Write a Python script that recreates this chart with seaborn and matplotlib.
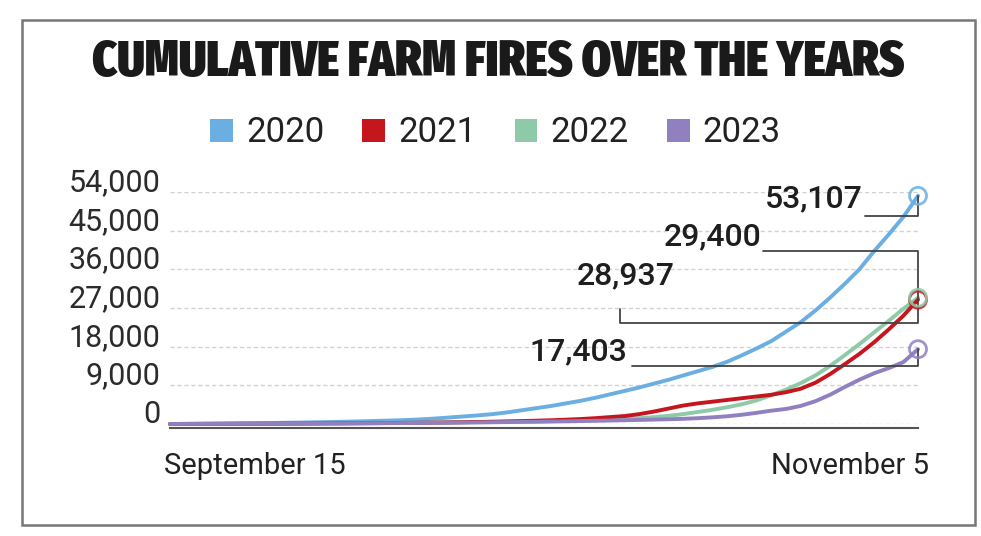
import numpy as np
import pandas as pd
import matplotlib
matplotlib.use("Agg")
import matplotlib.pyplot as plt
import matplotlib.transforms as mtransforms
from matplotlib import font_manager
from matplotlib.patches import Rectangle, Patch
import seaborn as sns

# --- data ---
title = "CUMULATIVE FARM FIRES OVER THE YEARS"
years = ["2020", "2021", "2022", "2023"]
colors = ["#6aaee2", "#c4161c", "#8fcaa8", "#9080c0"]
dates = pd.date_range("2023-09-15", "2023-11-05")
x_tick_labels = ["September 15", "November 5"]
y_ticks = [0, 9000, 18000, 27000, 36000, 45000, 54000]

fires_2020 = [0, 30, 60, 90, 120, 160, 200, 240, 290, 340, 400, 460, 530, 610, 700, 800,
              900, 1050, 1250, 1500, 1750, 2000, 2300, 2700, 3200, 3700, 4200, 4800, 5400, 6100,
              6900, 7700, 8500, 9400, 10300, 11300, 12300, 13300, 14500, 16000, 17600, 19300,
              21500, 23700, 26400, 29400, 32600, 36000, 40200, 44100, 48200, 53107]
fires_2021 = [0, 10, 20, 30, 40, 50, 60, 75, 90, 105, 120, 140, 160, 180, 200, 230,
              260, 290, 330, 370, 420, 470, 530, 600, 680, 770, 870, 1000, 1150, 1350,
              1600, 1850, 2300, 2900, 3600, 4300, 4800, 5200, 5600, 6000, 6400, 6800,
              7400, 8200, 9600, 11600, 13900, 16300, 19000, 22000, 25200, 28937]
fires_2022 = [0, 10, 20, 30, 40, 50, 60, 70, 85, 100, 115, 130, 150, 170, 190, 210,
              240, 270, 300, 340, 380, 420, 460, 500, 550, 600, 660, 730, 800, 900,
              1000, 1150, 1350, 1600, 1900, 2300, 2800, 3300, 3900, 4600, 5500, 6700,
              8000, 9500, 11300, 13500, 16000, 18600, 21300, 24000, 26800, 29400]
fires_2023 = [0, 10, 20, 30, 40, 50, 60, 70, 80, 95, 110, 125, 140, 160, 180, 200,
              220, 245, 270, 300, 330, 360, 400, 440, 480, 520, 570, 620, 680, 740,
              800, 870, 940, 1020, 1100, 1200, 1350, 1550, 1800, 2150, 2600, 3100,
              3500, 4200, 5300, 6800, 8600, 10300, 11800, 13000, 14400, 17403]
final_labels = {"2020": "53,107", "2021": "28,937", "2022": "29,400", "2023": "17,403"}

# label placement in axes fractions: text anchor (right, centre) and leader path
label_layout = {
    "2020": {"text": (0.926, 0.970), "path": [(0.929, 0.897), (1.0, 0.897)]},
    "2022": {"text": (0.791, 0.806), "path": [(0.793, 0.746), (1.0, 0.746)]},
    "2021": {"text": (0.675, 0.638), "path": [(0.602, 0.496), (0.602, 0.435), (1.0, 0.435)]},
    "2023": {"text": (0.612, 0.310), "path": [(0.618, 0.250), (1.0, 0.250)]},
}

series = {"2020": fires_2020, "2021": fires_2021, "2022": fires_2022, "2023": fires_2023}
df = pd.concat([pd.DataFrame({"date": dates, "fires": v, "year": y}) for y, v in series.items()])
palette = dict(zip(years, colors))

sns.set_theme(style="white")
plt.rcParams["font.family"] = ["Roboto", "DejaVu Sans"]


def title_font():
    # heaviest upright condensed face installed, else plain bold
    def wnum(w):
        return w if isinstance(w, (int, float)) else font_manager.weight_dict.get(w, 400)
    cands = [f for f in font_manager.fontManager.ttflist
             if f.stretch in ("condensed", "semi-condensed", "extra-condensed", "ultra-condensed")
             and wnum(f.weight) >= 700 and f.style == "normal"
             and "italic" not in f.fname.lower()]
    if cands:
        def narrow(f):
            name = f.fname.lower()
            if "extracondensed" in name or "extra-condensed" in name:
                return 0
            if "semicondensed" in name or "semi-condensed" in name:
                return 2
            return 1
        cands.sort(key=lambda f: (-wnum(f.weight), narrow(f)))
        return font_manager.FontProperties(fname=cands[0].fname)
    return font_manager.FontProperties(family=["DejaVu Sans"], weight="bold")


fig = plt.figure(figsize=(9.81, 5.36), dpi=100)
ax = fig.add_axes([0.1733, 0.2090, 0.7625, 0.4328])

sns.lineplot(data=df, x="date", y="fires", hue="year", hue_order=["2020", "2022", "2021", "2023"],
             palette=palette, linewidth=2.8, legend=False, ax=ax)
for line in ax.lines:
    line.set_clip_on(False)
    line.set_solid_capstyle("round")

ax.set_xlim(dates[0], dates[-1])
ax.set_ylim(0, 54000)
ax.set_xlabel("")
ax.set_ylabel("")

# y axis: no spine, dashed grid, labels sit above the grid lines
ax.set_yticks(y_ticks)
ax.set_yticklabels([f"{v:,}" for v in y_ticks])
ax.yaxis.grid(True, linestyle=(0, (3, 2)), color="#d2d2d2", linewidth=1.0)
ax.set_axisbelow(True)
ax.tick_params(axis="y", length=0, pad=7, labelsize=22, labelcolor="#2b2b2b")
shift_up = mtransforms.ScaledTranslation(0, 9 / 72, fig.dpi_scale_trans)
for lab in ax.get_yticklabels():
    lab.set_transform(lab.get_transform() + shift_up)

# x axis: line with end ticks
for s in ["top", "right", "left"]:
    ax.spines[s].set_visible(False)
ax.spines["bottom"].set_position(("outward", 3))
ax.spines["bottom"].set_color("#555555")
ax.spines["bottom"].set_linewidth(1.5)
ax.set_xticks([dates[0], dates[-1]])
ax.set_xticklabels(x_tick_labels)
ax.tick_params(axis="x", length=16, width=1.5, color="#555555", direction="out",
               pad=1, labelsize=21, labelcolor="#222222")
xl = ax.get_xticklabels()
xl[0].set_ha("left")
xl[0].set_transform(xl[0].get_transform() + mtransforms.ScaledTranslation(-4 / 72, 0, fig.dpi_scale_trans))
xl[1].set_ha("right")
xl[1].set_transform(xl[1].get_transform() + mtransforms.ScaledTranslation(8 / 72, 0, fig.dpi_scale_trans))

# end markers, value labels and leader lines
to_axes = ax.transAxes.inverted()
for y in years:
    last = series[y][-1]
    ax.scatter([dates[-1]], [last], s=150, facecolors="none", edgecolors=palette[y],
               linewidths=2, alpha=0.85, zorder=5, clip_on=False)
    end_ax = to_axes.transform(ax.transData.transform((matplotlib.dates.date2num(dates[-1]), last)))
    lay = label_layout[y]
    pts = lay["path"] + [(1.0, end_ax[1])]
    ax.plot([p[0] for p in pts], [p[1] for p in pts], transform=ax.transAxes,
            color="#444444", linewidth=1.3, clip_on=False, zorder=4)
    ax.text(lay["text"][0], lay["text"][1], final_labels[y], transform=ax.transAxes,
            ha="right", va="center", fontsize=23, fontweight="medium", color="#1e1e1e")

# legend
handles = [Patch(facecolor=c, edgecolor="none", label=y) for y, c in zip(years, colors)]
fig.legend(handles=handles, loc="center", bbox_to_anchor=(0.505, 0.752), ncol=4, frameon=False,
           fontsize=25, handlelength=0.66, handleheight=0.66, handletextpad=0.37,
           columnspacing=1.1, labelcolor="#222222")

# title: heavy face, sized so that it spans the same width as the reference
tprops = title_font()
tprops.set_size(40)
t = fig.text(0.508, 0.884, title, ha="center", va="center", fontproperties=tprops, color="#1a1a1a")
renderer = fig.canvas.get_renderer()
w = t.get_window_extent(renderer).width
tprops.set_size(min(50, 40 * 813 / w))
t.set_fontproperties(tprops)

fig.patches.append(Rectangle((0.0224, 0.0205), 0.9715, 0.942, transform=fig.transFigure,
                             fill=False, edgecolor="#777777", linewidth=1.8))

fig.savefig("out.png", dpi=100)
